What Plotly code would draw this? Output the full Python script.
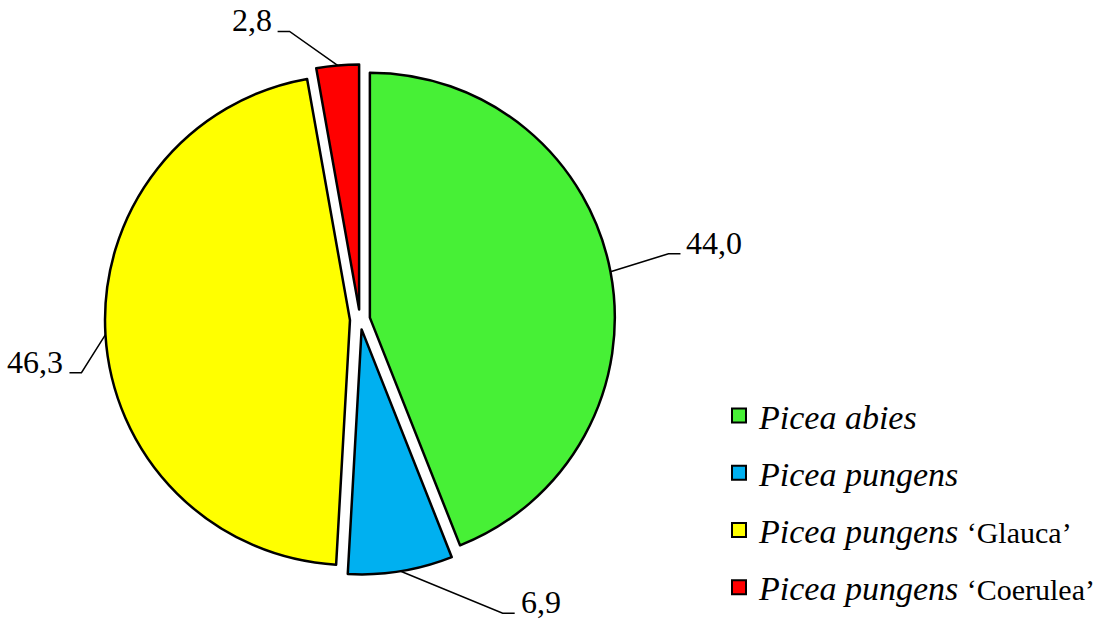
import math
import plotly.graph_objects as go

# Share of each spruce taxon, %
species = ["Picea abies", "Picea pungens", "Picea pungens", "Picea pungens"]
cultivars = ["", "", "‘Glauca’", "‘Coerulea’"]
shares = [44.0, 6.9, 46.3, 2.8]
colors = ["#47F036", "#00B0F0", "#FFFF00", "#FF0000"]

W, H = 1113, 624
CX, CY = 360.0, 319.5          # pie centre, px
R_OUT = 255.0                  # radius including pull, px
PULL = 0.041
FONT = "Liberation Serif, Times New Roman, serif"

# elbow of each leader line relative to the slice edge, px; and text side
leader_offsets = [(58, -18), (102, 42), (-24, 38), (-48, -34)]
leader_sides = [1, 1, -1, -1]
TICK = 12


def px(x):
    return x / W


def py(y):
    return 1 - y / H


legend_names = [
    f"<i>{s}</i>" + (f" <span style='font-style:normal;font-size:30px'>{c}</span>" if c else "")
    for s, c in zip(species, cultivars)
]

fig = go.Figure()
fig.add_trace(go.Pie(
    values=shares,
    labels=legend_names,
    sort=False,
    direction="clockwise",
    rotation=0,
    pull=[PULL] * len(shares),
    marker=dict(colors=colors, line=dict(color="black", width=2.5)),
    textinfo="none",
    hoverinfo="label+value",
    showlegend=False,
    domain=dict(x=[px(CX - R_OUT), px(CX + R_OUT)],
                y=[py(CY + R_OUT), py(CY - R_OUT)]),
))

# legend entries
for i, (name, col) in enumerate(zip(legend_names, colors)):
    fig.add_trace(go.Scatter(
        x=[None], y=[None], mode="markers", name=name,
        legendgroup=f"g{i}",
        marker=dict(symbol="square", size=14, color=col,
                    line=dict(color="black", width=2)),
    ))

# value labels with leader lines
total = sum(shares)
cum = 0.0
shapes, annotations = [], []
for v, (dx, dy), side in zip(shares, leader_offsets, leader_sides):
    mid = (cum + v / 2) / total * 2 * math.pi
    cum += v
    ex = CX + R_OUT * math.sin(mid)
    ey = CY - R_OUT * math.cos(mid)
    bx, by = ex + dx, ey + dy
    tx = bx + side * TICK
    shapes.append(dict(type="path", xref="paper", yref="paper",
                       path=f"M {px(ex)},{py(ey)} L {px(bx)},{py(by)} L {px(tx)},{py(by)}",
                       line=dict(color="black", width=1.5)))
    annotations.append(dict(
        x=px(tx + side * 4), y=py(by - 11), xref="paper", yref="paper",
        text=f"{v:.1f}".replace(".", ","), showarrow=False,
        xanchor="left" if side > 0 else "right", yanchor="middle",
        font=dict(family=FONT, size=32, color="black"),
    ))

fig.update_layout(
    width=W, height=H,
    margin=dict(l=0, r=0, t=0, b=0),
    paper_bgcolor="white", plot_bgcolor="white",
    xaxis=dict(visible=False), yaxis=dict(visible=False),
    shapes=shapes, annotations=annotations,
    legend=dict(x=px(719), y=py(387), xanchor="left", yanchor="top",
                font=dict(family=FONT, size=34, color="black"),
                tracegroupgap=10, bgcolor="rgba(0,0,0,0)"),
)

fig.write_html("out.html")
